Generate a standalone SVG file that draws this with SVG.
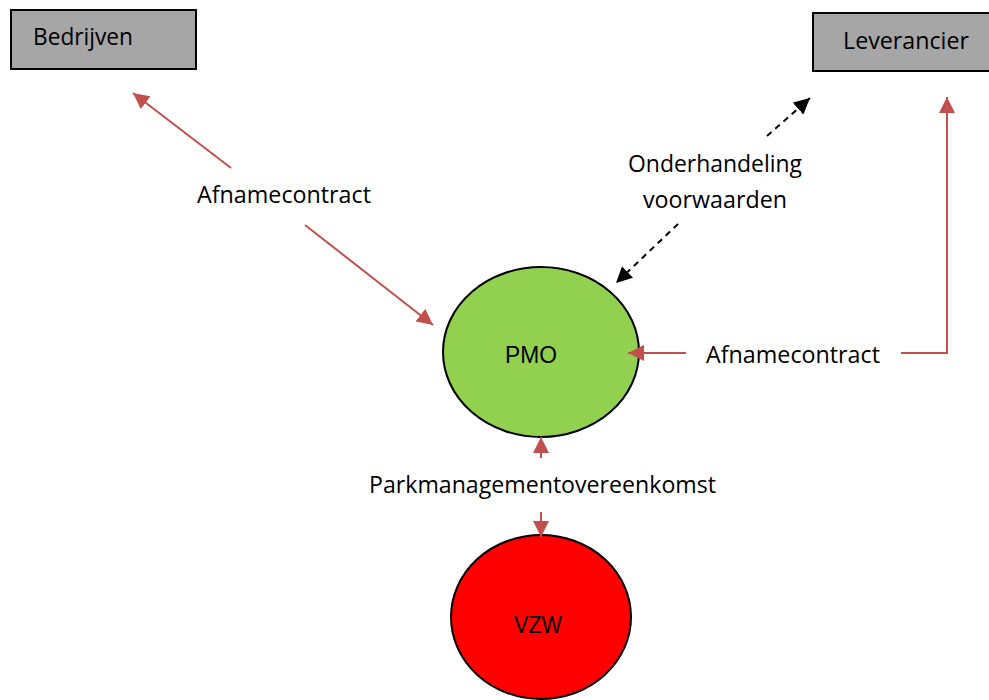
<svg xmlns="http://www.w3.org/2000/svg" width="989" height="700" viewBox="0 0 989 700">
<style>
text{font-family:"Open Sans","Noto Sans","Liberation Sans",sans-serif;font-size:23px;fill:#000}
text.in{font-family:"Liberation Sans",Arial,sans-serif;font-size:23px}
.box{fill:#A6A6A6;stroke:#000;stroke-width:2}
.red{stroke:#C0504D;stroke-width:2;fill:none}
.dash{stroke:#000;stroke-width:2;fill:none;stroke-dasharray:6,5}
</style>
<defs>
<marker id="ab" viewBox="0 0 10 10" refX="10" refY="5" markerWidth="16" markerHeight="16" markerUnits="userSpaceOnUse" orient="auto">
<path d="M0,0 L10,5 L0,10 z" fill="#000"/>
</marker>
<marker id="arr" viewBox="0 0 10 10" refX="10" refY="5" markerWidth="16" markerHeight="16" markerUnits="userSpaceOnUse" orient="auto">
<path d="M0,0 L10,5 L0,10 z" fill="#C0504D"/>
</marker>
</defs>
<g id="bedrijven">
<rect class="box" x="11" y="10" width="185" height="59"/>
<text x="33" y="45" textLength="100" lengthAdjust="spacingAndGlyphs">Bedrijven</text>
</g>
<g id="leverancier">
<rect class="box" x="813" y="13" width="190" height="58"/>
<text x="843" y="49" textLength="126" lengthAdjust="spacingAndGlyphs">Leverancier</text>
</g>
<g id="pmo">
<ellipse cx="541" cy="352" rx="98" ry="85" fill="#92D050" stroke="#000" stroke-width="2"/>
<text class="in" x="505" y="363" textLength="52" lengthAdjust="spacingAndGlyphs">PMO</text>
</g>
<g id="vzw">
<ellipse cx="541" cy="617" rx="90" ry="82" fill="#FF0000" stroke="#000" stroke-width="2"/>
<text class="in" x="514" y="633" textLength="48" lengthAdjust="spacingAndGlyphs">VZW</text>
</g>
<g id="connectors">
<line class="red" x1="231" y1="168" x2="133" y2="93" marker-end="url(#arr)"/>
<line class="red" x1="305" y1="225" x2="433" y2="325" marker-end="url(#arr)"/>
<text x="197" y="203" textLength="174" lengthAdjust="spacingAndGlyphs">Afnamecontract</text>
<line class="dash" x1="767" y1="136" x2="810" y2="98" marker-end="url(#ab)"/>
<line class="dash" x1="678" y1="224" x2="616" y2="283" marker-end="url(#ab)"/>
<text x="628" y="172" textLength="174" lengthAdjust="spacingAndGlyphs">Onderhandeling</text>
<text x="643" y="208" textLength="144" lengthAdjust="spacingAndGlyphs">voorwaarden</text>
<line class="red" x1="686" y1="353" x2="628" y2="353" marker-end="url(#arr)"/>
<polyline class="red" points="901,353 947,353 947,97" marker-end="url(#arr)"/>
<text x="706" y="363" textLength="174" lengthAdjust="spacingAndGlyphs">Afnamecontract</text>
<line class="red" x1="541" y1="458" x2="541" y2="437" marker-end="url(#arr)"/>
<line class="red" x1="541" y1="512" x2="541" y2="537" marker-end="url(#arr)"/>
<text x="369" y="493" textLength="347" lengthAdjust="spacingAndGlyphs">Parkmanagementovereenkomst</text>
</g>
</svg>
